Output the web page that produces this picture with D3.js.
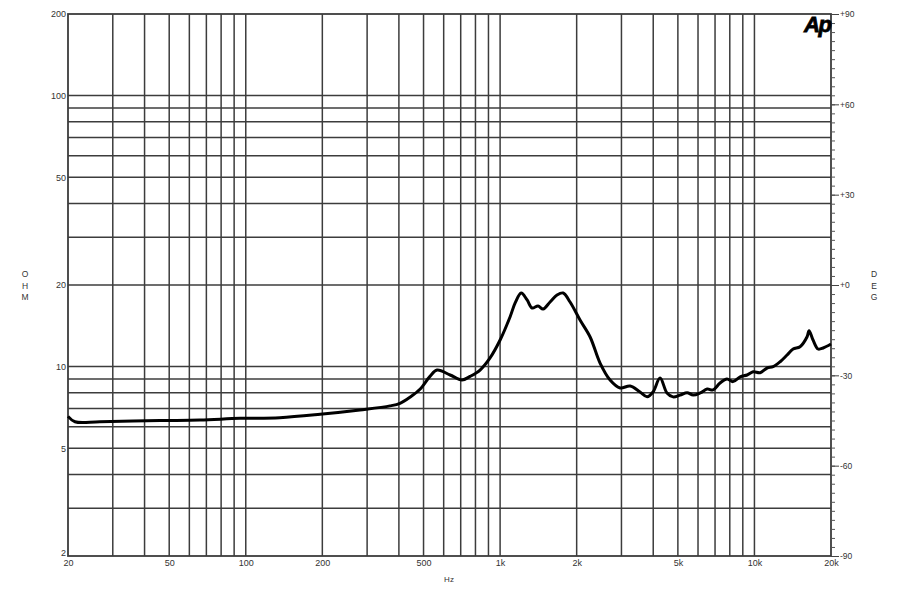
<!DOCTYPE html>
<html>
<head>
<meta charset="utf-8">
<title>Impedance</title>
<script src="https://cdnjs.cloudflare.com/ajax/libs/d3/7.8.5/d3.min.js"></script>
<style>
    * { margin: 0; padding: 0; }
    body { background: #fff; }
    text { font-family: "Liberation Sans", Arial, sans-serif; fill: #333; }
</style>
</head>
<body>
<script>
// impedance curve (Hz, ohm)
var freqHz = [20, 21.3, 26.7, 46, 66, 95, 136, 196, 281, 369, 404, 443, 484, 530, 565, 636, 708, 762, 834, 913,
    1000, 1095, 1146, 1210, 1277, 1336, 1410, 1476, 1572, 1674, 1769, 1884, 2062, 2259, 2472, 2706, 2964, 3244,
    3550, 3785, 3992, 4255, 4531, 4787, 5100, 5436, 5742, 6119, 6519, 6874, 7325, 7802, 8240, 8787, 9358, 9885,
    10528, 11217, 11836, 12620, 13438, 14194, 15112, 16108, 16400, 17000, 17786, 18620, 20000];
var impedanceOhm = [6.55, 6.26, 6.26, 6.32, 6.35, 6.44, 6.48, 6.67, 6.92, 7.16, 7.32, 7.72, 8.25, 9.2, 9.71, 9.31, 8.92, 9.2, 9.71, 10.76,
    12.53, 15.28, 17.17, 18.69, 17.61, 16.45, 16.73, 16.31, 17.31, 18.37, 18.69, 17.31, 14.85, 12.86, 10.3, 8.92, 8.34, 8.48,
    8.06, 7.74, 8.06, 9.07, 7.99, 7.73, 7.85, 8.01, 7.85, 7.99, 8.26, 8.2, 8.7, 9.0, 8.8, 9.16, 9.31, 9.57,
    9.49, 9.88, 9.99, 10.42, 11.03, 11.61, 11.84, 12.89, 13.56, 12.53, 11.61, 11.71, 12.11];

// axes
var xGridValues = [30, 40, 50, 60, 70, 80, 90, 100, 200, 300, 400, 500, 600, 700, 800, 900, 1000,
    2000, 3000, 4000, 5000, 6000, 7000, 8000, 9000, 10000];
var xTickValues = [20, 50, 100, 200, 500, 1000, 2000, 5000, 10000, 20000];
var xTickLabels = ["20", "50", "100", "200", "500", "1k", "2k", "5k", "10k", "20k"];
var yGridValues = [3, 4, 5, 6, 7, 8, 9, 10, 20, 30, 40, 50, 60, 70, 80, 90, 100];
var yTickValues = [2, 5, 10, 20, 50, 100, 200];
var phaseMajor = [-90, -60, -30, 0, 30, 60, 90];
var phaseLabels = ["-90", "-60", "-30", "+0", "+30", "+60", "+90"];

var W = 900, H = 600;
var plotL = 68, plotR = 831, plotT = 14, plotB = 556;

var svg = d3.select("body").append("svg")
    .attr("width", W)
    .attr("height", H);

var x = d3.scaleLog().domain([20, 20000]).range([plotL, plotR]);
var y = d3.scaleLog().domain([2, 200]).range([plotB, plotT]);
var phase = d3.scaleLinear().domain([-90, 90]).range([plotB, plotT]);

var gridColor = "#3c3c3c";

// grid
svg.append("g").selectAll("line")
    .data(xGridValues)
    .enter().append("line")
    .attr("x1", function(d) { return x(d); })
    .attr("x2", function(d) { return x(d); })
    .attr("y1", plotT)
    .attr("y2", plotB)
    .attr("stroke", gridColor)
    .attr("stroke-width", 1.5);

svg.append("g").selectAll("line")
    .data(yGridValues)
    .enter().append("line")
    .attr("x1", plotL)
    .attr("x2", plotR)
    .attr("y1", function(d) { return y(d); })
    .attr("y2", function(d) { return y(d); })
    .attr("stroke", gridColor)
    .attr("stroke-width", 1.5);

// frame
svg.append("rect")
    .attr("x", plotL)
    .attr("y", plotT)
    .attr("width", plotR - plotL)
    .attr("height", plotB - plotT)
    .attr("fill", "none")
    .attr("stroke", gridColor)
    .attr("stroke-width", 1.8);

// bottom axis labels
var xAxis = d3.axisBottom(x)
    .tickValues(xTickValues)
    .tickSize(0)
    .tickPadding(4)
    .tickFormat(function(d, i) { return xTickLabels[i]; });

var gx = svg.append("g")
    .attr("transform", "translate(0," + plotB + ")")
    .call(xAxis);
gx.select(".domain").remove();
gx.selectAll("text").attr("font-size", 9).attr("fill", "#333");

// left axis labels
var yAxis = d3.axisLeft(y)
    .tickValues(yTickValues)
    .tickSize(0)
    .tickPadding(2)
    .tickFormat(d3.format("d"));

var gy = svg.append("g")
    .attr("transform", "translate(" + plotL + ",0)")
    .call(yAxis);
gy.select(".domain").remove();
gy.selectAll("text").attr("font-size", 9).attr("fill", "#333");
gy.selectAll(".tick").filter(function(d) { return d === 2; })
    .select("text").attr("dy", "-0.1em");

// right phase axis: minor ticks every 3 deg
var pMinor = d3.axisRight(phase)
    .tickValues(d3.range(-90, 91, 3))
    .tickSize(4)
    .tickFormat("");
var gp = svg.append("g")
    .attr("transform", "translate(" + plotR + ",0)")
    .call(pMinor);
gp.select(".domain").remove();
gp.selectAll("line").attr("stroke", "#555");

var pMajor = d3.axisRight(phase)
    .tickValues(phaseMajor)
    .tickSize(8)
    .tickPadding(1)
    .tickFormat(function(d, i) { return phaseLabels[i]; });
var gp2 = svg.append("g")
    .attr("transform", "translate(" + plotR + ",0)")
    .call(pMajor);
gp2.select(".domain").remove();
gp2.selectAll("line").attr("stroke", "#444");
gp2.selectAll("text").attr("font-size", 8.5).attr("fill", "#333");

// axis titles
function stacked(txt, cx, cy) {
    var t = svg.append("text")
        .attr("text-anchor", "middle")
        .attr("font-size", 8.5);
    txt.split("").forEach(function(c, i) {
        t.append("tspan").attr("x", cx).attr("y", cy + i * 11.5).text(c);
    });
}
stacked("OHM", 25, 277);
stacked("DEG", 874, 277);

svg.append("text")
    .attr("x", 449)
    .attr("y", 582)
    .attr("text-anchor", "middle")
    .attr("font-size", 8)
    .text("Hz");

// logo
svg.append("text")
    .attr("x", 804)
    .attr("y", 32)
    .attr("font-size", 22)
    .attr("font-weight", "bold")
    .attr("font-style", "italic")
    .attr("letter-spacing", -1.5)
    .style("fill", "#000")
    .style("stroke", "#000")
    .style("stroke-width", 0.8)
    .text("Ap");

// impedance curve
var pts = freqHz.map(function(f, i) { return [f, impedanceOhm[i]]; });
var line = d3.line()
    .x(function(d) { return x(d[0]); })
    .y(function(d) { return y(d[1]); })
    .curve(d3.curveCatmullRom.alpha(0.5));

svg.append("path")
    .datum(pts)
    .attr("d", line)
    .attr("fill", "none")
    .attr("stroke", "#000")
    .attr("stroke-width", 3)
    .attr("stroke-linejoin", "round");
</script>
</body>
</html>
